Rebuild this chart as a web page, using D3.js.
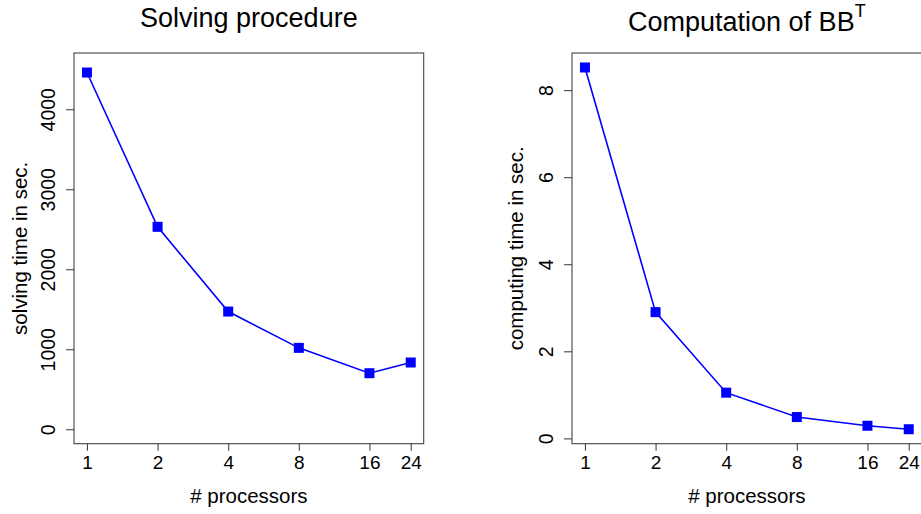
<!DOCTYPE html>
<html>
<head>
<meta charset="utf-8">
<script src="https://cdn.jsdelivr.net/npm/d3@7"></script>
<style>
  html, body { margin: 0; padding: 0; background: #fff; }
  svg { display: block; }
  text { font-family: "Liberation Sans", Arial, Helvetica, sans-serif; fill: #000; }
</style>
</head>
<body>
<svg id="chart" width="921" height="514"></svg>
<script>
// ---- data ----
const processors = [1, 2, 4, 8, 16, 24];
const xTickLabels = ["1", "2", "4", "8", "16", "24"];
const solvingTime = [4459, 2530, 1471, 1017, 700, 834];
const bbtTime = [8.52, 2.9, 1.05, 0.49, 0.29, 0.21];
const solvingYTicks = [0, 1000, 2000, 3000, 4000];
const bbtYTicks = [0, 2, 4, 6, 8];
const titles = ["Solving procedure", "Computation of BB"];
const yLabels = ["solving time in sec.", "computing time in sec."];
const xLabel = "# processors";

const svg = d3.select("#chart");
const blue = "#0000ff";
const axisCol = "#444";

function panel(opt) {
  const { left, right, top, bottom, yDomain, values, yTicks, title, sup, yLabel, yLabOff } = opt;
  const g = svg.append("g");
  // R-style log x-scale with 4% padding
  const lx0 = Math.log(1), lx1 = Math.log(24), pad = 0.04 * (lx1 - lx0);
  const x = d3.scaleLog().domain([Math.exp(lx0 - pad), Math.exp(lx1 + pad)]).range([left, right]);
  const y = d3.scaleLinear().domain(yDomain).range([bottom, top]);

  // box
  g.append("rect").attr("x", left).attr("y", top).attr("width", right - left).attr("height", bottom - top)
    .attr("fill", "none").attr("stroke", axisCol).attr("stroke-width", 1.1);

  // x axis
  const xAxis = d3.axisBottom(x).tickValues(processors).tickFormat((d, i) => xTickLabels[i]).tickSize(7).tickPadding(5);
  const xg = g.append("g").attr("transform", `translate(0,${bottom})`).call(xAxis);
  xg.select(".domain").remove();
  xg.selectAll(".tick line").attr("stroke", axisCol).attr("stroke-width", 1.1);
  xg.selectAll(".tick text").attr("font-size", 19).attr("font-family", "Liberation Sans, Arial, sans-serif").attr("fill", "#000");

  // y axis with rotated labels
  const yAxis = d3.axisLeft(y).tickValues(yTicks).tickFormat(d3.format("d")).tickSize(8);
  const yg = g.append("g").attr("transform", `translate(${left},0)`).call(yAxis);
  yg.select(".domain").remove();
  yg.selectAll(".tick line").attr("stroke", axisCol).attr("stroke-width", 1.1);
  yg.selectAll(".tick text")
    .attr("font-size", 19.5).attr("font-family", "Liberation Sans, Arial, sans-serif").attr("fill", "#000")
    .attr("x", null).attr("dy", null)
    .attr("text-anchor", "middle")
    .attr("transform", `translate(${-19.5},0) rotate(-90)`);

  // line
  const line = d3.line().x((d, i) => x(processors[i])).y(d => y(d));
  g.append("path").datum(values).attr("d", line).attr("fill", "none").attr("stroke", blue).attr("stroke-width", 1.6);

  // markers
  const s = 10;
  g.selectAll("rect.pt").data(values).enter().append("rect").attr("class", "pt")
    .attr("x", (d, i) => x(processors[i]) - s / 2).attr("y", d => y(d) - s / 2)
    .attr("width", s).attr("height", s).attr("fill", blue);

  const cx = (left + right) / 2;
  // title
  const t = g.append("text").attr("x", cx).attr("y", sup ? 30.5 : 27).attr("text-anchor", "middle")
    .attr("font-size", 27).text(title);
  if (sup) {
    t.append("tspan").attr("font-size", 18).attr("dy", -14).text(sup);
  }
  // x label
  g.append("text").attr("x", cx).attr("y", 503).attr("text-anchor", "middle").attr("font-size", 20.5).text(xLabel);
  // y label
  g.append("text").attr("transform", `translate(${left - yLabOff},${(top + bottom) / 2}) rotate(-90)`)
    .attr("text-anchor", "middle").attr("font-size", 20.5).text(yLabel);
}

const sMin = -181, sMax = 4703;
panel({ left: 74, right: 423.7, top: 53, bottom: 443.7, yDomain: [sMin, sMax], values: solvingTime,
  yTicks: solvingYTicks, title: titles[0], yLabel: yLabels[0], yLabOff: 47.5 });

const bExt = d3.extent(bbtTime), bPad = 0.04 * (bExt[1] - bExt[0]);
panel({ left: 572, right: 921.7, top: 53, bottom: 443.7, yDomain: [bExt[0] - bPad, bExt[1] + bPad], values: bbtTime,
  yTicks: bbtYTicks, title: titles[1], sup: "T", yLabel: yLabels[1], yLabOff: 49 });
</script>
</body>
</html>
